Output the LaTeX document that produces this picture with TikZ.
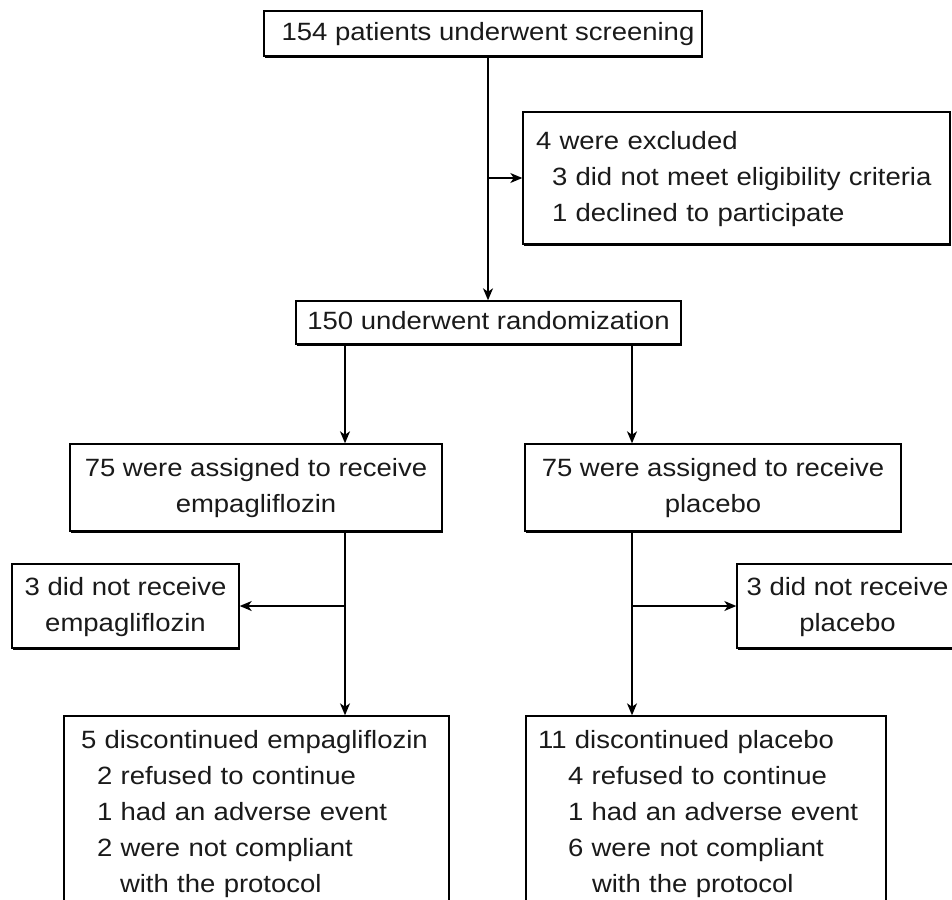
\documentclass[tikz,border=0pt]{standalone}
\usepackage{fontspec}
\setmainfont{Liberation Sans}[FakeStretch=1.1]
\usetikzlibrary{arrows.meta,shadows}
\definecolor{ink}{HTML}{1A1A1A}
\tikzset{
  box/.style={draw=black, line width=1.4pt, fill=white, inner sep=0pt, text=ink,
    font=\fontsize{25}{36}\selectfont,
    drop shadow={shadow xshift=1.3pt, shadow yshift=-1.8pt, opacity=1, fill=black}},
  cbox/.style={box, align=center},
  lbox/.style={box, align=left},
  arr/.style={line width=1.4pt, draw=black, -{Stealth[length=12pt,width=10pt,inset=3.5pt]}}
}
\begin{document}
\begin{tikzpicture}[x=1pt,y=-1pt]
\useasboundingbox (0,0) rectangle (952,899);
\fill[white] (0,0) rectangle (952,899);

\node[cbox, minimum width=438pt, minimum height=45pt] (screen) at (483,33.5)
  {\hspace*{10pt}\strut 154 patients underwent screening};

\node[lbox, text width=401pt, inner xsep=13pt, minimum height=132pt] (excl) at (736.5,178)
  {\strut 4 were excluded\\
   \hspace*{16pt}3 did not meet eligibility criteria\\
   \hspace*{16pt}1 declined to participate\strut};

\node[cbox, minimum width=385pt, minimum height=43pt] (rand) at (488.5,322.5)
  {\strut 150 underwent randomization};

\node[cbox, minimum width=372pt, minimum height=87pt] (A) at (256,487.5)
  {\strut 75 were assigned to receive\\ empagliflozin\strut};
\node[cbox, minimum width=376pt, minimum height=87pt] (B) at (713,487.5)
  {\strut 75 were assigned to receive\\ placebo\strut};

\node[cbox, minimum width=227pt, minimum height=84pt] (C) at (125.5,606)
  {\strut 3 did not receive\\ empagliflozin\strut};
\node[cbox, minimum width=221pt, minimum height=84pt] (D) at (847.5,606)
  {\strut 3 did not receive\\ placebo\strut};

\node[lbox, text width=351pt, inner xsep=17pt, minimum height=193.6pt] (E) at (256.5,812.8)
  {\strut\mbox{5 discontinued empagliflozin}\\
   \hspace*{16pt}2 refused to continue\\
   \hspace*{16pt}1 had an adverse event\\
   \hspace*{16pt}2 were not compliant\\
   \hspace*{39pt}with the protocol\strut};
\node[lbox, text width=336pt, inner xsep=12pt, minimum height=193.6pt] (F) at (706,812.8)
  {\strut 11 discontinued placebo\\
   \hspace*{30pt}4 refused to continue\\
   \hspace*{30pt}1 had an adverse event\\
   \hspace*{30pt}6 were not compliant\\
   \hspace*{54pt}with the protocol\strut};

\coordinate (mx) at (488,0);
\coordinate (lx) at (345,0);
\coordinate (rx) at (632,0);

\draw[arr] (screen.south -| mx) -- (rand.north -| mx);
\draw[arr] (mx |- excl.west) -- (excl.west);

\draw[arr] (rand.south -| lx) -- (A.north -| lx);
\draw[arr] (rand.south -| rx) -- (B.north -| rx);

\draw[arr] (A.south -| lx) -- (E.north -| lx);
\draw[arr] (B.south -| rx) -- (F.north -| rx);

\draw[arr] (lx |- C.east) -- (C.east);
\draw[arr] (rx |- D.west) -- (D.west);
\end{tikzpicture}
\end{document}
